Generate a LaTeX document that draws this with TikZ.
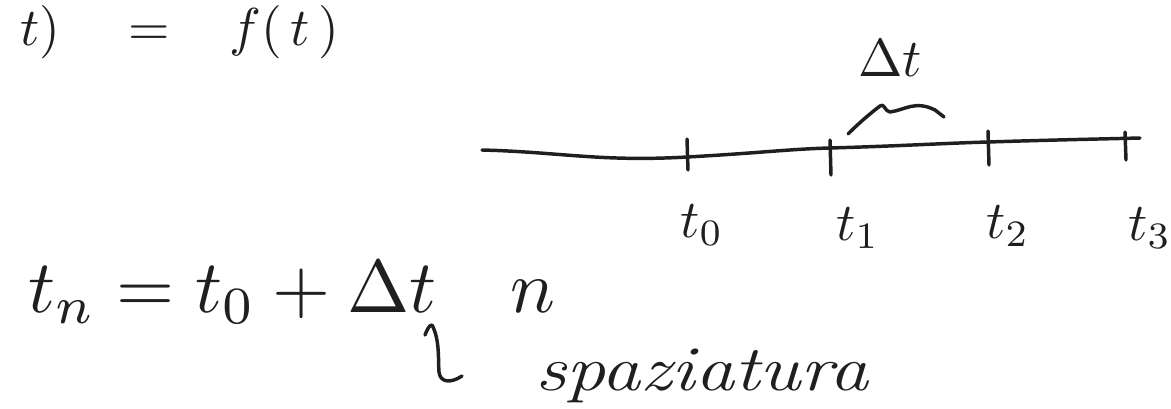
\documentclass[tikz,border=0pt]{standalone}
\usepackage{graphicx}
\usepackage{amsmath}
\newcommand{\myscaledmath}[2]{\scalebox{#1}{$#2$}}
\begin{document}
\begin{tikzpicture}[x=0.75pt,y=-0.75pt,
  ink/.style={line width=2.6pt,line cap=round,line join=round,color=black!88},
  hand/.style={inner sep=0pt,color=black!88}]
\useasboundingbox (0,0) rectangle (1171,408);
% top formula
\node[hand,anchor=base west] (top) at (20,45) {\myscaledmath{4.0}{t)\;\;\;\, = \;\;\;f(\,t\,)}};
% timeline
\coordinate (L) at (482,150);
\coordinate (R) at (1140,138);
\draw[ink] (L) .. controls (560,152) and (600,162) .. (687,157)
  .. controls (760,153) and (790,149) .. (830,148)
  .. controls (900,146) and (950,143) .. (988,142)
  .. controls (1050,140) and (1100,139) .. (R);
% ticks
\coordinate (a0) at (687,139); \coordinate (b0) at (688,170);
\coordinate (a1) at (830,140); \coordinate (b1) at (831,175);
\coordinate (a2) at (988,131); \coordinate (b2) at (989,165);
\coordinate (a3) at (1125,132); \coordinate (b3) at (1126,160);
\draw[ink] (a0) -- (b0);
\draw[ink] (a1) -- (b1);
\draw[ink] (a2) -- (b2);
\draw[ink] (a3) -- (b3);
% tick labels
\node[hand,anchor=base] (t0) at (702,237) {\myscaledmath{4}{t_0}};
\node[hand,anchor=base] (t1) at (858,240) {\myscaledmath{4}{t_1}};
\node[hand,anchor=base] (t2) at (1008,238) {\myscaledmath{4}{t_2}};
\node[hand,anchor=base] (t3) at (1150,240) {\myscaledmath{4}{t_3}};
% brace and Delta t
\coordinate (bs) at (848,134);
\coordinate (be) at (944,117);
\draw[ink] (bs) .. controls (860,122) and (872,112) .. (880,106)
  .. controls (884,102) and (885,112) .. (890,112)
  .. controls (905,110) and (915,100) .. (935,110) -- (be);
\node[hand,anchor=base] (dt) at (890,76) {\myscaledmath{4}{\Delta t}};
% main formula
\node[hand,anchor=base west] (eq) at (28,312) {\myscaledmath{5.6}{t_n = t_0 + \Delta t\;\;\;\, n}};
% small brace below Delta t
\coordinate (s0) at (425,335);
\coordinate (s1) at (462,376);
\draw[ink] (s0) .. controls (427,330) and (429,325) .. (432,325)
  .. controls (440,340) and (438,360) .. (439,372)
  .. controls (440,382) and (450,384) .. (s1);
\node[hand,anchor=base west,font=\fontsize{48}{56}\selectfont\itshape] (sp) at (535,390) {\scalebox{1.22}[1]{spaziatura}};
\end{tikzpicture}
\end{document}
